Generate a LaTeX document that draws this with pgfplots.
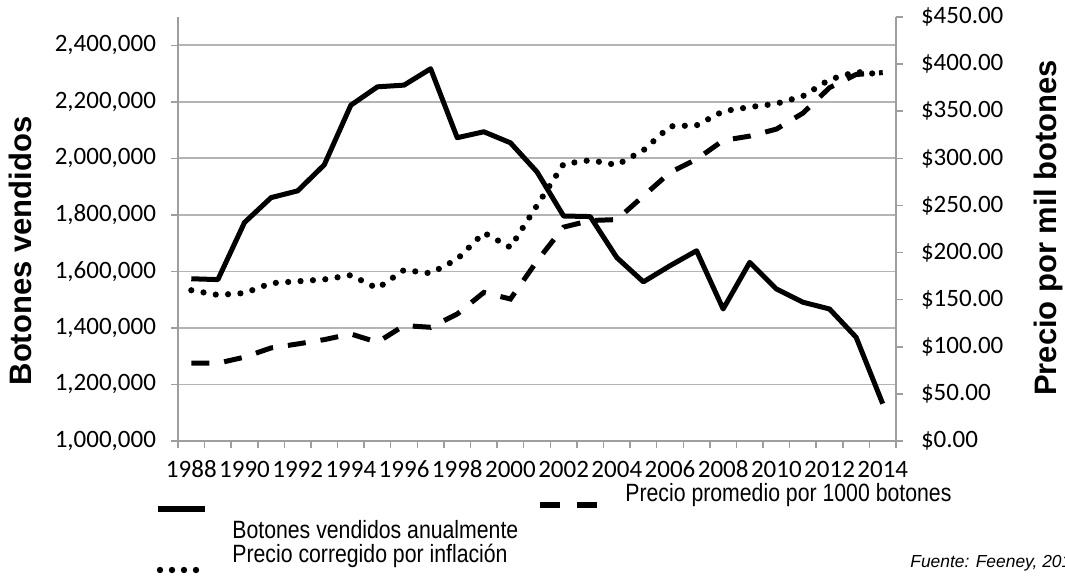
\documentclass[border=0pt]{standalone}
\usepackage{fontspec}
\setmainfont{Carlito}
\newfontfamily\arial{Liberation Sans}
\usepackage{graphicx}
\usepackage{pgfplots}
\pgfplotsset{compat=1.18}
\definecolor{gridgray}{HTML}{B4B4B4}
\definecolor{axisgray}{HTML}{9E9E9E}

\pgfplotstableread{
year sold nominal real
1988 1574000 82.6 160
1989 1571000 82.6 155
1990 1773000 89.0 157
1991 1861000 98.8 167.5
1992 1885000 103.0 169.5
1993 1977000 107.6 171.5
1994 2188000 113.6 176
1995 2253000 104.8 162
1996 2259000 122.5 181.5
1997 2317000 120.7 178
1998 2073000 134.8 193
1999 2094000 157.7 221
2000 2055000 150.7 205.5
2001 1952000 191.0 250
2002 1796000 227.0 294
2003 1794000 234.0 298
2004 1649000 235.0 293
2005 1563000 260.0 308.5
2006 1620000 285.0 334
2007 1673000 299.0 335
2008 1467000 319.0 350
2009 1632000 323.6 354.4
2010 1538000 331.0 358
2011 1491000 348.0 366
2012 1467000 375.0 383.6
2013 1367000 389.0 391.8
2014 1132000 391.0 389
}\datatable

\pgfplotsset{
  common/.style={
    at={(89pt,67pt)}, anchor=south west,
    scale only axis, width=359pt, height=212pt,
    xmin=1987.5, xmax=2014.5,
    tick align=outside,
    major tick length=3.5pt, minor tick length=3.5pt,
    tick style={axisgray, line width=0.75pt},
    axis line style={draw=axisgray, line width=0.9pt},
    ticklabel style={font=\fontsize{12.5}{14}\selectfont},
    /pgf/number format/assume math mode=true,
  }
}

\begin{document}
\begin{tikzpicture}[x=0.5pt,y=0.5pt]
\path[use as bounding box] (0,0) rectangle (1065,575);

\begin{axis}[common,
  ymin=1000000, ymax=2500000,
  axis x line*=bottom, axis y line*=left,
  xtick={1987.5,1989.5,1991.5,1993.5,1995.5,1997.5,1999.5,2001.5,2003.5,2005.5,2007.5,2009.5,2011.5,2013.5},
  xticklabels={1988,1990,1992,1994,1996,1998,2000,2002,2004,2006,2008,2010,2012,2014},
  x tick label style={xshift=6.67pt, yshift=-3pt, text height=8.2pt, text depth=0pt, anchor=north},
  minor xtick={1988.5,1990.5,1992.5,1994.5,1996.5,1998.5,2000.5,2002.5,2004.5,2006.5,2008.5,2010.5,2012.5,2014.5},
  ytick={1000000,1200000,1400000,1600000,1800000,2000000,2200000,2400000},
  scaled y ticks=false,
  y tick label style={xshift=-4pt, /pgf/number format/fixed, /pgf/number format/1000 sep={,}},
  ymajorgrids, grid style={gridgray, line width=0.9pt},
]
\addplot[black, line width=2.5pt, line join=round] table[x=year, y=sold] {\datatable};
\end{axis}

\begin{axis}[common,
  ymin=0, ymax=450,
  axis x line=none, axis y line*=right,
  ytick={0,50,100,150,200,250,300,350,400,450},
  yticklabels={\$0.00,\$50.00,\$100.00,\$150.00,\$200.00,\$250.00,\$300.00,\$350.00,\$400.00,\$450.00},
  y tick label style={anchor=west, xshift=5.5pt},
]
\addplot[black, line width=2.5pt, dash pattern=on 9pt off 7.5pt] table[x=year, y=nominal] {\datatable};
\addplot[black, line width=3.1pt, line cap=round, dash pattern=on 0pt off 6.2pt] table[x=year, y=real] {\datatable};
\end{axis}

\node[rotate=90, font=\arial\bfseries\fontsize{15.5}{18}\selectfont] at (20,324) {Botones vendidos};
\node[rotate=90, font=\arial\bfseries\fontsize{15.5}{18}\selectfont] at (1048,347) {Precio por mil botones};

% legend
\draw[black, line width=3pt] (158,66) -- (205,66);
\node[anchor=west, inner sep=0pt, font=\arial\fontsize{12.5}{14}\selectfont] at (232,45) {\scalebox{0.85}[1]{Botones vendidos anualmente}};
\draw[black, line width=3pt, dash pattern=on 10pt off 8.5pt] (540,70) -- (597,70);
\node[anchor=west, inner sep=0pt, font=\arial\fontsize{12.5}{14}\selectfont] at (625,80) {\scalebox{0.85}[1]{Precio promedio por 1000 botones}};
\node[anchor=west, inner sep=0pt, font=\arial\fontsize{12.5}{14}\selectfont] at (232,19) {\scalebox{0.85}[1]{Precio corregido por inflación}};
\draw[black, line width=3.2pt, line cap=round, dash pattern=on 0pt off 6pt] (160,5) -- (200,5);
\node[anchor=west, inner sep=0pt, font=\arial\itshape\fontsize{8.7}{10}\selectfont] at (910,12) {Fuente: Feeney, 2015};
\end{tikzpicture}
\end{document}
